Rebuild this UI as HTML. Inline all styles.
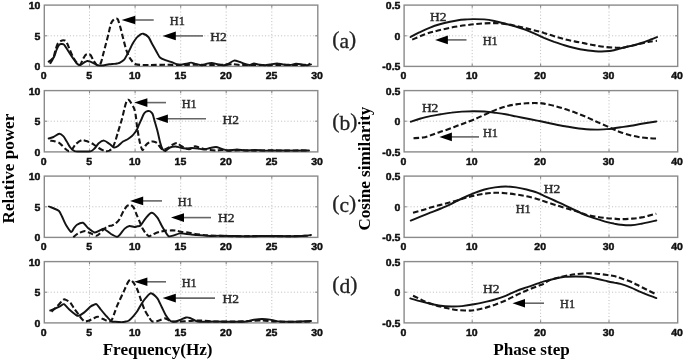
<!DOCTYPE html>
<html><head><meta charset="utf-8"><title>Figure</title>
<style>
html,body{margin:0;padding:0;background:#fff;}
body{width:685px;height:361px;overflow:hidden;}
svg{display:block;filter:blur(0.4px);}
.f{fill:none;stroke:#8a8a8a;stroke-width:1.4;}
.g{stroke:#b4b4b4;stroke-width:0.9;stroke-dasharray:1 2.2;}
.t{stroke:#8a8a8a;stroke-width:1.1;}
.n{text-rendering:geometricPrecision;font-family:"Liberation Sans",Arial,sans-serif;font-weight:bold;font-size:10.1px;fill:#111;stroke:#111;stroke-width:0.45;}
.cs{fill:none;stroke:#141414;stroke-width:1.95;stroke-linejoin:round;stroke-linecap:round;}
.cd{fill:none;stroke:#141414;stroke-width:2.1;stroke-dasharray:5.6 2.7;}
.as{stroke:#666;stroke-width:1.6;}
.ah{fill:#000;}
.h{font-family:"Liberation Serif","Times New Roman",serif;font-size:13.2px;fill:#2a2a2a;stroke:#2a2a2a;stroke-width:0.45;}
.p{font-family:"Liberation Serif","Times New Roman",serif;font-size:20.3px;fill:#222;stroke:#222;stroke-width:0.3;}
.a{font-family:"Liberation Serif","Times New Roman",serif;font-weight:bold;font-size:17.1px;fill:#000;}
</style></head>
<body>
<svg width="685" height="361" viewBox="0 0 685 361">
<rect width="685" height="361" fill="#fff"/>
<line x1="89.5" y1="5.1" x2="89.5" y2="66.4" class="g"/>
<line x1="89.5" y1="5.1" x2="89.5" y2="7.8" class="t"/>
<line x1="89.5" y1="66.4" x2="89.5" y2="63.7" class="t"/>
<line x1="135.1" y1="5.1" x2="135.1" y2="66.4" class="g"/>
<line x1="135.1" y1="5.1" x2="135.1" y2="7.8" class="t"/>
<line x1="135.1" y1="66.4" x2="135.1" y2="63.7" class="t"/>
<line x1="180.7" y1="5.1" x2="180.7" y2="66.4" class="g"/>
<line x1="180.7" y1="5.1" x2="180.7" y2="7.8" class="t"/>
<line x1="180.7" y1="66.4" x2="180.7" y2="63.7" class="t"/>
<line x1="226.2" y1="5.1" x2="226.2" y2="66.4" class="g"/>
<line x1="226.2" y1="5.1" x2="226.2" y2="7.8" class="t"/>
<line x1="226.2" y1="66.4" x2="226.2" y2="63.7" class="t"/>
<line x1="271.8" y1="5.1" x2="271.8" y2="66.4" class="g"/>
<line x1="271.8" y1="5.1" x2="271.8" y2="7.8" class="t"/>
<line x1="271.8" y1="66.4" x2="271.8" y2="63.7" class="t"/>
<line x1="44.3" y1="35.8" x2="317.8" y2="35.8" class="g"/>
<line x1="44.3" y1="35.8" x2="47.0" y2="35.8" class="t"/>
<line x1="317.8" y1="35.8" x2="315.1" y2="35.8" class="t"/>
<rect x="44.3" y="5.1" width="273.5" height="61.3" class="f"/>
<line x1="472.2" y1="5.1" x2="472.2" y2="66.4" class="g"/>
<line x1="472.2" y1="5.1" x2="472.2" y2="7.8" class="t"/>
<line x1="472.2" y1="66.4" x2="472.2" y2="63.7" class="t"/>
<line x1="540.6" y1="5.1" x2="540.6" y2="66.4" class="g"/>
<line x1="540.6" y1="5.1" x2="540.6" y2="7.8" class="t"/>
<line x1="540.6" y1="66.4" x2="540.6" y2="63.7" class="t"/>
<line x1="609.0" y1="5.1" x2="609.0" y2="66.4" class="g"/>
<line x1="609.0" y1="5.1" x2="609.0" y2="7.8" class="t"/>
<line x1="609.0" y1="66.4" x2="609.0" y2="63.7" class="t"/>
<line x1="404.1" y1="35.8" x2="677.7" y2="35.8" class="g"/>
<line x1="404.1" y1="35.8" x2="406.8" y2="35.8" class="t"/>
<line x1="677.7" y1="35.8" x2="675.0" y2="35.8" class="t"/>
<rect x="404.1" y="5.1" width="273.6" height="61.3" class="f"/>
<text transform="translate(40.4,9.0) scale(1.04,1)" text-anchor="end" class="n">10</text>
<text transform="translate(40.4,39.6) scale(1.04,1)" text-anchor="end" class="n">5</text>
<text transform="translate(40.4,70.2) scale(1.04,1)" text-anchor="end" class="n">0</text>
<text transform="translate(43.6,79.0) scale(1.04,1)" text-anchor="middle" class="n">0</text>
<text transform="translate(89.2,79.0) scale(1.04,1)" text-anchor="middle" class="n">5</text>
<text transform="translate(134.8,79.0) scale(1.04,1)" text-anchor="middle" class="n">10</text>
<text transform="translate(180.4,79.0) scale(1.04,1)" text-anchor="middle" class="n">15</text>
<text transform="translate(225.9,79.0) scale(1.04,1)" text-anchor="middle" class="n">20</text>
<text transform="translate(271.5,79.0) scale(1.04,1)" text-anchor="middle" class="n">25</text>
<text transform="translate(317.1,79.0) scale(1.04,1)" text-anchor="middle" class="n">30</text>
<text transform="translate(400.4,9.0) scale(1.04,1)" text-anchor="end" class="n">0.5</text>
<text transform="translate(400.4,39.6) scale(1.04,1)" text-anchor="end" class="n">0</text>
<text transform="translate(400.4,70.2) scale(1.04,1)" text-anchor="end" class="n">-0.5</text>
<text transform="translate(403.4,79.0) scale(1.04,1)" text-anchor="middle" class="n">0</text>
<text transform="translate(471.8,79.0) scale(1.04,1)" text-anchor="middle" class="n">10</text>
<text transform="translate(540.2,79.0) scale(1.04,1)" text-anchor="middle" class="n">20</text>
<text transform="translate(608.6,79.0) scale(1.04,1)" text-anchor="middle" class="n">30</text>
<text transform="translate(677.0,79.0) scale(1.04,1)" text-anchor="middle" class="n">40</text>
<line x1="89.5" y1="90.6" x2="89.5" y2="151.9" class="g"/>
<line x1="89.5" y1="90.6" x2="89.5" y2="93.3" class="t"/>
<line x1="89.5" y1="151.9" x2="89.5" y2="149.2" class="t"/>
<line x1="135.1" y1="90.6" x2="135.1" y2="151.9" class="g"/>
<line x1="135.1" y1="90.6" x2="135.1" y2="93.3" class="t"/>
<line x1="135.1" y1="151.9" x2="135.1" y2="149.2" class="t"/>
<line x1="180.7" y1="90.6" x2="180.7" y2="151.9" class="g"/>
<line x1="180.7" y1="90.6" x2="180.7" y2="93.3" class="t"/>
<line x1="180.7" y1="151.9" x2="180.7" y2="149.2" class="t"/>
<line x1="226.2" y1="90.6" x2="226.2" y2="151.9" class="g"/>
<line x1="226.2" y1="90.6" x2="226.2" y2="93.3" class="t"/>
<line x1="226.2" y1="151.9" x2="226.2" y2="149.2" class="t"/>
<line x1="271.8" y1="90.6" x2="271.8" y2="151.9" class="g"/>
<line x1="271.8" y1="90.6" x2="271.8" y2="93.3" class="t"/>
<line x1="271.8" y1="151.9" x2="271.8" y2="149.2" class="t"/>
<line x1="44.3" y1="121.2" x2="317.8" y2="121.2" class="g"/>
<line x1="44.3" y1="121.2" x2="47.0" y2="121.2" class="t"/>
<line x1="317.8" y1="121.2" x2="315.1" y2="121.2" class="t"/>
<rect x="44.3" y="90.6" width="273.5" height="61.3" class="f"/>
<line x1="472.2" y1="90.6" x2="472.2" y2="151.9" class="g"/>
<line x1="472.2" y1="90.6" x2="472.2" y2="93.3" class="t"/>
<line x1="472.2" y1="151.9" x2="472.2" y2="149.2" class="t"/>
<line x1="540.6" y1="90.6" x2="540.6" y2="151.9" class="g"/>
<line x1="540.6" y1="90.6" x2="540.6" y2="93.3" class="t"/>
<line x1="540.6" y1="151.9" x2="540.6" y2="149.2" class="t"/>
<line x1="609.0" y1="90.6" x2="609.0" y2="151.9" class="g"/>
<line x1="609.0" y1="90.6" x2="609.0" y2="93.3" class="t"/>
<line x1="609.0" y1="151.9" x2="609.0" y2="149.2" class="t"/>
<line x1="404.1" y1="121.2" x2="677.7" y2="121.2" class="g"/>
<line x1="404.1" y1="121.2" x2="406.8" y2="121.2" class="t"/>
<line x1="677.7" y1="121.2" x2="675.0" y2="121.2" class="t"/>
<rect x="404.1" y="90.6" width="273.6" height="61.3" class="f"/>
<text transform="translate(40.4,94.5) scale(1.04,1)" text-anchor="end" class="n">10</text>
<text transform="translate(40.4,125.1) scale(1.04,1)" text-anchor="end" class="n">5</text>
<text transform="translate(40.4,155.7) scale(1.04,1)" text-anchor="end" class="n">0</text>
<text transform="translate(43.6,164.5) scale(1.04,1)" text-anchor="middle" class="n">0</text>
<text transform="translate(89.2,164.5) scale(1.04,1)" text-anchor="middle" class="n">5</text>
<text transform="translate(134.8,164.5) scale(1.04,1)" text-anchor="middle" class="n">10</text>
<text transform="translate(180.4,164.5) scale(1.04,1)" text-anchor="middle" class="n">15</text>
<text transform="translate(225.9,164.5) scale(1.04,1)" text-anchor="middle" class="n">20</text>
<text transform="translate(271.5,164.5) scale(1.04,1)" text-anchor="middle" class="n">25</text>
<text transform="translate(317.1,164.5) scale(1.04,1)" text-anchor="middle" class="n">30</text>
<text transform="translate(400.4,94.5) scale(1.04,1)" text-anchor="end" class="n">0.5</text>
<text transform="translate(400.4,125.1) scale(1.04,1)" text-anchor="end" class="n">0</text>
<text transform="translate(400.4,155.7) scale(1.04,1)" text-anchor="end" class="n">-0.5</text>
<text transform="translate(403.4,164.5) scale(1.04,1)" text-anchor="middle" class="n">0</text>
<text transform="translate(471.8,164.5) scale(1.04,1)" text-anchor="middle" class="n">10</text>
<text transform="translate(540.2,164.5) scale(1.04,1)" text-anchor="middle" class="n">20</text>
<text transform="translate(608.6,164.5) scale(1.04,1)" text-anchor="middle" class="n">30</text>
<text transform="translate(677.0,164.5) scale(1.04,1)" text-anchor="middle" class="n">40</text>
<line x1="89.5" y1="176.1" x2="89.5" y2="237.4" class="g"/>
<line x1="89.5" y1="176.1" x2="89.5" y2="178.8" class="t"/>
<line x1="89.5" y1="237.4" x2="89.5" y2="234.7" class="t"/>
<line x1="135.1" y1="176.1" x2="135.1" y2="237.4" class="g"/>
<line x1="135.1" y1="176.1" x2="135.1" y2="178.8" class="t"/>
<line x1="135.1" y1="237.4" x2="135.1" y2="234.7" class="t"/>
<line x1="180.7" y1="176.1" x2="180.7" y2="237.4" class="g"/>
<line x1="180.7" y1="176.1" x2="180.7" y2="178.8" class="t"/>
<line x1="180.7" y1="237.4" x2="180.7" y2="234.7" class="t"/>
<line x1="226.2" y1="176.1" x2="226.2" y2="237.4" class="g"/>
<line x1="226.2" y1="176.1" x2="226.2" y2="178.8" class="t"/>
<line x1="226.2" y1="237.4" x2="226.2" y2="234.7" class="t"/>
<line x1="271.8" y1="176.1" x2="271.8" y2="237.4" class="g"/>
<line x1="271.8" y1="176.1" x2="271.8" y2="178.8" class="t"/>
<line x1="271.8" y1="237.4" x2="271.8" y2="234.7" class="t"/>
<line x1="44.3" y1="206.8" x2="317.8" y2="206.8" class="g"/>
<line x1="44.3" y1="206.8" x2="47.0" y2="206.8" class="t"/>
<line x1="317.8" y1="206.8" x2="315.1" y2="206.8" class="t"/>
<rect x="44.3" y="176.1" width="273.5" height="61.3" class="f"/>
<line x1="472.2" y1="176.1" x2="472.2" y2="237.4" class="g"/>
<line x1="472.2" y1="176.1" x2="472.2" y2="178.8" class="t"/>
<line x1="472.2" y1="237.4" x2="472.2" y2="234.7" class="t"/>
<line x1="540.6" y1="176.1" x2="540.6" y2="237.4" class="g"/>
<line x1="540.6" y1="176.1" x2="540.6" y2="178.8" class="t"/>
<line x1="540.6" y1="237.4" x2="540.6" y2="234.7" class="t"/>
<line x1="609.0" y1="176.1" x2="609.0" y2="237.4" class="g"/>
<line x1="609.0" y1="176.1" x2="609.0" y2="178.8" class="t"/>
<line x1="609.0" y1="237.4" x2="609.0" y2="234.7" class="t"/>
<line x1="404.1" y1="206.8" x2="677.7" y2="206.8" class="g"/>
<line x1="404.1" y1="206.8" x2="406.8" y2="206.8" class="t"/>
<line x1="677.7" y1="206.8" x2="675.0" y2="206.8" class="t"/>
<rect x="404.1" y="176.1" width="273.6" height="61.3" class="f"/>
<text transform="translate(40.4,180.0) scale(1.04,1)" text-anchor="end" class="n">10</text>
<text transform="translate(40.4,210.6) scale(1.04,1)" text-anchor="end" class="n">5</text>
<text transform="translate(40.4,241.2) scale(1.04,1)" text-anchor="end" class="n">0</text>
<text transform="translate(43.6,250.0) scale(1.04,1)" text-anchor="middle" class="n">0</text>
<text transform="translate(89.2,250.0) scale(1.04,1)" text-anchor="middle" class="n">5</text>
<text transform="translate(134.8,250.0) scale(1.04,1)" text-anchor="middle" class="n">10</text>
<text transform="translate(180.4,250.0) scale(1.04,1)" text-anchor="middle" class="n">15</text>
<text transform="translate(225.9,250.0) scale(1.04,1)" text-anchor="middle" class="n">20</text>
<text transform="translate(271.5,250.0) scale(1.04,1)" text-anchor="middle" class="n">25</text>
<text transform="translate(317.1,250.0) scale(1.04,1)" text-anchor="middle" class="n">30</text>
<text transform="translate(400.4,180.0) scale(1.04,1)" text-anchor="end" class="n">0.5</text>
<text transform="translate(400.4,210.6) scale(1.04,1)" text-anchor="end" class="n">0</text>
<text transform="translate(400.4,241.2) scale(1.04,1)" text-anchor="end" class="n">-0.5</text>
<text transform="translate(403.4,250.0) scale(1.04,1)" text-anchor="middle" class="n">0</text>
<text transform="translate(471.8,250.0) scale(1.04,1)" text-anchor="middle" class="n">10</text>
<text transform="translate(540.2,250.0) scale(1.04,1)" text-anchor="middle" class="n">20</text>
<text transform="translate(608.6,250.0) scale(1.04,1)" text-anchor="middle" class="n">30</text>
<text transform="translate(677.0,250.0) scale(1.04,1)" text-anchor="middle" class="n">40</text>
<line x1="89.5" y1="261.6" x2="89.5" y2="322.9" class="g"/>
<line x1="89.5" y1="261.6" x2="89.5" y2="264.3" class="t"/>
<line x1="89.5" y1="322.9" x2="89.5" y2="320.2" class="t"/>
<line x1="135.1" y1="261.6" x2="135.1" y2="322.9" class="g"/>
<line x1="135.1" y1="261.6" x2="135.1" y2="264.3" class="t"/>
<line x1="135.1" y1="322.9" x2="135.1" y2="320.2" class="t"/>
<line x1="180.7" y1="261.6" x2="180.7" y2="322.9" class="g"/>
<line x1="180.7" y1="261.6" x2="180.7" y2="264.3" class="t"/>
<line x1="180.7" y1="322.9" x2="180.7" y2="320.2" class="t"/>
<line x1="226.2" y1="261.6" x2="226.2" y2="322.9" class="g"/>
<line x1="226.2" y1="261.6" x2="226.2" y2="264.3" class="t"/>
<line x1="226.2" y1="322.9" x2="226.2" y2="320.2" class="t"/>
<line x1="271.8" y1="261.6" x2="271.8" y2="322.9" class="g"/>
<line x1="271.8" y1="261.6" x2="271.8" y2="264.3" class="t"/>
<line x1="271.8" y1="322.9" x2="271.8" y2="320.2" class="t"/>
<line x1="44.3" y1="292.2" x2="317.8" y2="292.2" class="g"/>
<line x1="44.3" y1="292.2" x2="47.0" y2="292.2" class="t"/>
<line x1="317.8" y1="292.2" x2="315.1" y2="292.2" class="t"/>
<rect x="44.3" y="261.6" width="273.5" height="61.3" class="f"/>
<line x1="472.2" y1="261.6" x2="472.2" y2="322.9" class="g"/>
<line x1="472.2" y1="261.6" x2="472.2" y2="264.3" class="t"/>
<line x1="472.2" y1="322.9" x2="472.2" y2="320.2" class="t"/>
<line x1="540.6" y1="261.6" x2="540.6" y2="322.9" class="g"/>
<line x1="540.6" y1="261.6" x2="540.6" y2="264.3" class="t"/>
<line x1="540.6" y1="322.9" x2="540.6" y2="320.2" class="t"/>
<line x1="609.0" y1="261.6" x2="609.0" y2="322.9" class="g"/>
<line x1="609.0" y1="261.6" x2="609.0" y2="264.3" class="t"/>
<line x1="609.0" y1="322.9" x2="609.0" y2="320.2" class="t"/>
<line x1="404.1" y1="292.2" x2="677.7" y2="292.2" class="g"/>
<line x1="404.1" y1="292.2" x2="406.8" y2="292.2" class="t"/>
<line x1="677.7" y1="292.2" x2="675.0" y2="292.2" class="t"/>
<rect x="404.1" y="261.6" width="273.6" height="61.3" class="f"/>
<text transform="translate(40.4,265.5) scale(1.04,1)" text-anchor="end" class="n">10</text>
<text transform="translate(40.4,296.1) scale(1.04,1)" text-anchor="end" class="n">5</text>
<text transform="translate(40.4,326.7) scale(1.04,1)" text-anchor="end" class="n">0</text>
<text transform="translate(43.6,335.5) scale(1.04,1)" text-anchor="middle" class="n">0</text>
<text transform="translate(89.2,335.5) scale(1.04,1)" text-anchor="middle" class="n">5</text>
<text transform="translate(134.8,335.5) scale(1.04,1)" text-anchor="middle" class="n">10</text>
<text transform="translate(180.4,335.5) scale(1.04,1)" text-anchor="middle" class="n">15</text>
<text transform="translate(225.9,335.5) scale(1.04,1)" text-anchor="middle" class="n">20</text>
<text transform="translate(271.5,335.5) scale(1.04,1)" text-anchor="middle" class="n">25</text>
<text transform="translate(317.1,335.5) scale(1.04,1)" text-anchor="middle" class="n">30</text>
<text transform="translate(400.4,265.5) scale(1.04,1)" text-anchor="end" class="n">0.5</text>
<text transform="translate(400.4,296.1) scale(1.04,1)" text-anchor="end" class="n">0</text>
<text transform="translate(400.4,326.7) scale(1.04,1)" text-anchor="end" class="n">-0.5</text>
<text transform="translate(403.4,335.5) scale(1.04,1)" text-anchor="middle" class="n">0</text>
<text transform="translate(471.8,335.5) scale(1.04,1)" text-anchor="middle" class="n">10</text>
<text transform="translate(540.2,335.5) scale(1.04,1)" text-anchor="middle" class="n">20</text>
<text transform="translate(608.6,335.5) scale(1.04,1)" text-anchor="middle" class="n">30</text>
<text transform="translate(677.0,335.5) scale(1.04,1)" text-anchor="middle" class="n">40</text>
<path d="M50.0,63.7 C50.4,62.9 52.8,59.2 53.5,57.5 C54.2,55.8 55.0,51.7 55.5,50.0 C56.0,48.3 57.1,44.8 57.7,43.7 C58.3,42.6 59.8,41.6 60.5,41.2 C61.2,40.8 62.5,40.2 63.2,40.2 C63.9,40.2 65.2,40.2 66.0,41.2 C66.8,42.2 68.5,46.5 69.3,48.4 C70.1,50.3 71.6,54.2 72.5,56.0 C73.4,57.8 75.6,61.4 76.6,62.5 C77.6,63.6 79.5,65.1 80.3,64.7 C81.1,64.3 82.3,60.2 83.0,59.0 C83.7,57.8 84.9,55.6 85.5,55.0 C86.1,54.4 87.4,54.0 88.0,54.0 C88.6,54.0 89.8,54.2 90.5,55.0 C91.2,55.8 92.7,59.3 93.5,60.5 C94.3,61.7 95.9,64.1 96.6,64.7 C97.3,65.3 98.4,65.3 99.0,65.0 C99.6,64.7 100.5,63.8 101.0,62.5 C101.5,61.2 102.4,57.4 103.0,55.0 C103.6,52.6 105.3,46.1 106.0,43.5 C106.7,40.9 107.8,36.7 108.4,34.2 C109.0,31.7 110.3,25.3 111.0,23.5 C111.7,21.7 113.0,20.2 113.7,19.6 C114.4,19.0 115.7,18.6 116.2,18.6 C116.7,18.6 117.5,18.4 118.0,19.6 C118.5,20.8 119.8,25.5 120.5,27.9 C121.2,30.3 122.5,35.7 123.2,38.5 C123.9,41.3 125.5,47.6 126.3,50.0 C127.1,52.4 128.7,56.0 129.5,57.5 C130.3,59.0 131.8,60.8 132.6,61.7 C133.4,62.6 134.9,63.9 135.8,64.3 C136.7,64.7 138.2,64.8 140.0,64.9 C141.8,65.0 146.8,65.0 150.0,65.0 C153.2,65.0 161.2,64.8 165.0,64.8 C168.8,64.8 176.2,65.0 180.0,65.0 C183.8,65.0 191.2,64.7 195.0,64.7 C198.8,64.7 206.2,65.0 210.0,65.0 C213.8,65.0 222.1,64.8 225.0,64.7 C227.9,64.6 231.1,64.2 233.0,64.2 C234.9,64.2 237.2,64.9 240.0,65.0 C242.8,65.1 251.2,64.9 255.0,64.9 C258.8,64.9 266.2,65.1 270.0,65.1 C273.8,65.1 281.2,64.8 285.0,64.8 C288.8,64.8 297.3,65.1 300.0,65.1 C302.7,65.1 304.7,65.1 306.0,64.9 C307.3,64.7 309.5,63.9 310.0,63.8" class="cd"/>
<path d="M48.7,61.6 C49.1,61.3 50.8,60.1 51.5,59.5 C52.2,58.9 53.4,58.2 54.0,57.0 C54.6,55.8 55.9,51.5 56.5,50.0 C57.1,48.5 58.1,46.1 58.7,45.3 C59.3,44.5 60.3,44.1 61.0,44.0 C61.7,43.9 63.1,43.7 64.0,44.6 C64.9,45.5 67.1,49.4 68.2,51.0 C69.3,52.6 71.3,55.9 72.4,57.4 C73.5,58.9 75.6,62.2 76.6,63.2 C77.6,64.2 79.4,65.2 80.3,65.1 C81.2,65.0 83.1,63.1 84.0,62.6 C84.9,62.1 86.4,61.1 87.2,61.0 C88.0,60.9 89.4,61.3 90.3,61.6 C91.2,61.9 93.6,63.2 94.5,63.7 C95.4,64.2 96.6,65.0 97.7,65.2 C98.8,65.4 101.6,65.6 103.0,65.5 C104.4,65.4 107.6,64.5 109.0,64.3 C110.4,64.1 113.0,64.0 114.0,63.9 C115.0,63.8 116.2,63.7 117.0,63.5 C117.8,63.3 119.1,63.2 120.0,62.7 C120.9,62.2 123.1,60.9 124.2,59.6 C125.3,58.3 127.3,54.2 128.4,52.2 C129.5,50.2 131.5,45.7 132.6,43.8 C133.7,41.9 135.9,38.6 136.8,37.5 C137.7,36.4 139.2,35.3 140.0,34.8 C140.8,34.3 142.1,33.4 143.2,33.7 C144.3,34.0 147.2,35.6 148.4,37.0 C149.6,38.4 151.5,42.9 152.6,44.8 C153.7,46.7 155.9,50.6 156.8,52.2 C157.7,53.8 158.9,56.5 160.0,57.5 C161.1,58.5 163.8,59.5 165.3,60.1 C166.8,60.7 170.1,61.7 171.6,62.2 C173.1,62.7 175.6,63.9 176.8,64.2 C178.0,64.5 179.8,64.8 181.0,64.7 C182.2,64.6 185.0,64.1 186.3,63.8 C187.6,63.5 189.8,62.6 191.0,62.6 C192.2,62.6 194.6,63.7 196.0,64.0 C197.4,64.3 200.6,65.3 202.0,65.2 C203.4,65.1 205.6,63.9 207.0,63.6 C208.4,63.3 211.6,63.0 213.0,63.1 C214.4,63.2 216.6,64.2 218.0,64.5 C219.4,64.8 222.7,65.3 224.0,65.2 C225.3,65.1 226.7,64.6 228.0,64.0 C229.3,63.4 232.5,60.9 234.0,60.6 C235.5,60.3 238.6,61.6 240.0,62.0 C241.4,62.4 243.7,63.6 245.0,64.0 C246.3,64.4 248.9,65.1 250.0,65.0 C251.1,64.9 253.0,63.5 254.0,63.4 C255.0,63.3 256.6,64.3 258.0,64.5 C259.4,64.7 263.5,65.2 265.0,65.2 C266.5,65.2 268.5,64.7 270.0,64.5 C271.5,64.3 275.4,63.4 277.0,63.4 C278.6,63.4 281.4,64.3 283.0,64.5 C284.6,64.7 288.4,65.1 290.0,65.0 C291.6,64.9 294.5,63.9 296.0,63.8 C297.5,63.7 300.6,64.3 302.0,64.5 C303.4,64.7 305.9,65.2 307.0,65.2 C308.1,65.2 310.5,64.5 311.0,64.4" class="cs"/>
<path d="M48.7,138.5 C49.3,138.3 52.2,137.6 53.5,137.0 C54.8,136.4 58.0,133.9 59.3,133.8 C60.6,133.7 62.6,135.5 63.5,136.4 C64.4,137.3 65.7,139.8 66.6,141.2 C67.5,142.6 69.3,146.2 70.3,147.5 C71.3,148.8 73.3,150.6 74.5,151.1 C75.7,151.6 77.8,151.4 79.8,151.4 C81.8,151.4 88.4,151.8 90.3,151.4 C92.2,151.0 93.4,149.5 94.5,148.5 C95.6,147.5 97.5,144.3 98.7,143.3 C99.9,142.3 102.7,140.5 104.0,140.6 C105.3,140.7 108.0,142.9 109.3,143.8 C110.6,144.7 112.9,147.2 114.0,147.5 C115.1,147.8 116.9,146.8 118.0,146.0 C119.1,145.2 121.7,142.4 123.0,141.5 C124.3,140.6 126.9,139.7 128.0,139.0 C129.1,138.3 131.1,136.8 132.0,136.0 C132.9,135.2 134.4,133.3 135.0,132.5 C135.6,131.7 136.4,130.6 137.0,129.5 C137.6,128.4 138.9,124.8 139.5,123.5 C140.1,122.2 141.1,120.1 141.6,119.0 C142.1,117.9 143.0,115.4 143.5,114.5 C144.0,113.6 145.2,112.2 145.8,111.8 C146.4,111.4 147.5,111.1 148.0,111.0 C148.5,110.9 149.4,110.9 150.0,111.3 C150.6,111.7 152.0,112.7 152.6,114.0 C153.2,115.3 154.1,119.2 154.7,121.3 C155.3,123.4 156.7,128.2 157.4,130.8 C158.1,133.4 159.4,139.7 160.0,142.0 C160.6,144.3 161.8,147.9 162.5,149.0 C163.2,150.1 164.6,151.2 165.5,151.0 C166.4,150.8 168.7,148.1 170.0,147.5 C171.3,146.9 174.1,146.5 175.4,146.5 C176.7,146.5 178.7,147.2 180.0,147.5 C181.3,147.8 184.5,148.4 186.0,148.5 C187.5,148.6 190.5,148.0 192.0,148.0 C193.5,148.0 196.5,148.3 198.0,148.5 C199.5,148.7 202.5,149.6 204.0,149.5 C205.5,149.4 208.5,148.3 210.0,148.0 C211.5,147.7 214.5,146.9 216.0,147.0 C217.5,147.1 220.5,148.6 222.0,149.0 C223.5,149.4 226.1,150.4 228.0,150.5 C229.9,150.6 234.8,149.5 237.0,149.5 C239.2,149.5 242.7,150.4 245.0,150.5 C247.3,150.6 252.5,150.0 255.0,150.0 C257.5,150.0 261.8,150.5 265.0,150.6 C268.2,150.7 276.2,150.4 280.0,150.4 C283.8,150.4 291.3,150.6 295.0,150.6 C298.7,150.6 307.2,150.4 309.0,150.4" class="cs"/>
<path d="M50.3,140.6 C50.8,140.7 53.3,140.9 54.5,141.2 C55.7,141.5 58.5,142.4 59.8,143.3 C61.1,144.2 63.9,147.5 65.0,148.5 C66.1,149.5 67.8,151.0 68.7,151.1 C69.6,151.2 71.0,150.5 71.9,149.6 C72.8,148.7 74.3,145.5 75.6,144.3 C76.9,143.1 80.3,140.4 81.9,140.1 C83.5,139.8 86.7,141.2 88.2,141.7 C89.7,142.2 92.2,143.5 93.5,144.3 C94.8,145.1 97.2,147.1 98.7,148.0 C100.2,148.9 103.7,150.8 105.0,151.1 C106.3,151.4 108.3,151.0 109.3,150.6 C110.2,150.2 111.8,149.1 112.5,148.0 C113.2,146.9 114.3,144.0 115.0,142.0 C115.7,140.0 117.1,135.1 117.9,132.4 C118.7,129.7 120.7,123.4 121.6,120.3 C122.5,117.2 124.1,110.0 124.7,107.6 C125.3,105.2 126.1,102.5 126.5,101.5 C126.9,100.5 127.5,99.9 127.9,99.8 C128.3,99.7 129.1,100.1 129.5,100.5 C129.9,100.9 130.4,101.9 131.0,102.9 C131.6,103.9 133.6,107.0 134.2,108.7 C134.8,110.4 135.5,114.0 135.8,116.0 C136.1,118.0 136.5,122.5 136.8,124.5 C137.1,126.5 137.4,129.2 137.8,131.5 C138.2,133.8 139.4,140.7 140.0,143.0 C140.6,145.3 141.7,149.7 142.5,150.0 C143.3,150.3 145.1,146.0 146.0,145.0 C146.9,144.0 149.1,142.4 150.0,142.0 C150.9,141.6 152.1,141.4 153.0,141.5 C153.9,141.6 156.1,142.3 157.0,143.0 C157.9,143.7 159.2,146.1 160.0,147.0 C160.8,147.9 162.0,149.9 163.0,150.0 C164.0,150.1 166.9,148.6 168.0,148.0 C169.1,147.4 170.9,145.6 172.0,145.0 C173.1,144.4 175.9,142.9 177.0,143.0 C178.1,143.1 179.9,145.3 181.0,146.0 C182.1,146.7 184.9,148.1 186.0,148.5 C187.1,148.9 188.9,149.3 190.0,149.0 C191.1,148.7 193.9,146.5 195.0,146.3 C196.1,146.1 197.9,147.2 199.0,147.5 C200.1,147.8 202.6,148.7 204.0,149.0 C205.4,149.3 208.5,149.8 210.0,150.0 C211.5,150.2 214.5,150.5 216.0,150.5 C217.5,150.5 220.2,150.0 222.0,150.0 C223.8,150.0 227.7,150.6 230.0,150.6 C232.3,150.6 236.8,150.2 240.0,150.2 C243.2,150.2 251.2,150.6 255.0,150.6 C258.8,150.6 266.2,150.3 270.0,150.3 C273.8,150.3 281.2,150.6 285.0,150.6 C288.8,150.6 297.0,150.4 300.0,150.4 C303.0,150.4 307.9,150.6 309.0,150.6" class="cd"/>
<path d="M49.0,206.5 C49.6,206.8 52.7,207.9 54.0,208.5 C55.3,209.1 58.0,210.0 59.0,211.0 C60.0,212.0 61.1,214.7 62.0,216.5 C62.9,218.3 64.8,223.0 66.0,225.0 C67.2,227.0 70.2,231.6 71.2,232.0 C72.2,232.4 73.3,228.9 74.0,228.0 C74.7,227.1 75.9,225.5 77.0,224.8 C78.1,224.1 81.6,222.4 83.0,222.8 C84.4,223.2 86.5,226.8 88.0,228.0 C89.5,229.2 93.1,232.3 94.7,232.5 C96.3,232.7 99.7,230.4 100.9,229.9 C102.1,229.4 102.7,228.4 104.0,228.9 C105.3,229.4 109.3,233.0 111.0,234.0 C112.7,235.0 116.1,236.7 117.2,236.8 C118.3,236.9 119.0,235.5 120.0,234.5 C121.0,233.5 123.5,229.7 124.7,228.6 C125.9,227.5 128.3,226.2 129.5,226.0 C130.7,225.8 133.2,227.0 134.2,227.0 C135.2,227.0 136.7,226.5 137.5,226.3 C138.3,226.1 139.4,226.5 140.5,225.5 C141.6,224.5 144.4,219.7 145.8,218.1 C147.2,216.5 150.1,212.9 151.6,212.8 C153.1,212.7 156.1,216.0 157.4,217.6 C158.7,219.2 160.7,223.8 161.6,225.5 C162.5,227.2 163.8,229.3 164.7,230.7 C165.6,232.1 167.3,235.6 168.5,236.2 C169.7,236.8 172.4,235.8 173.8,235.4 C175.2,235.0 178.5,233.6 179.9,233.4 C181.3,233.2 183.7,233.7 185.0,233.8 C186.3,233.9 188.5,234.2 190.0,234.4 C191.5,234.6 195.1,234.8 197.0,235.0 C198.9,235.2 203.1,235.5 205.0,235.6 C206.9,235.7 210.1,236.0 212.0,236.0 C213.9,236.0 217.1,235.7 220.0,235.7 C222.9,235.7 231.2,235.9 235.0,236.0 C238.8,236.1 245.6,236.2 250.0,236.2 C254.4,236.2 264.9,236.0 270.0,236.0 C275.1,236.0 285.6,236.2 290.0,236.2 C294.4,236.2 302.3,236.0 305.0,235.8 C307.7,235.6 310.2,235.1 311.0,235.0" class="cs"/>
<path d="M73.3,237.2 C73.9,236.7 76.5,234.3 78.0,233.5 C79.5,232.7 83.5,231.1 85.0,231.0 C86.5,230.9 88.6,232.4 90.0,233.0 C91.4,233.6 95.1,235.7 96.3,235.8 C97.5,235.9 98.8,234.4 99.8,233.5 C100.8,232.6 103.0,229.9 104.0,229.0 C105.0,228.1 107.0,226.7 108.0,226.3 C109.0,225.9 111.1,225.8 112.0,225.5 C112.9,225.2 114.3,224.7 115.3,223.9 C116.2,223.1 118.6,220.6 119.5,219.2 C120.4,217.8 121.9,214.1 122.6,212.8 C123.3,211.5 124.3,209.8 124.8,209.0 C125.3,208.2 126.3,206.7 126.8,206.2 C127.3,205.7 128.5,205.4 129.0,205.2 C129.5,205.0 130.4,204.7 131.0,205.0 C131.6,205.3 133.0,206.5 133.7,207.6 C134.4,208.7 135.6,212.2 136.3,213.9 C137.0,215.6 138.7,219.4 139.5,221.3 C140.3,223.2 141.8,227.1 142.6,228.6 C143.4,230.1 145.0,232.4 145.8,233.4 C146.6,234.4 148.2,236.0 149.0,236.2 C149.8,236.4 151.1,235.4 152.0,235.0 C152.9,234.6 154.9,233.4 156.0,233.0 C157.1,232.6 159.7,231.8 161.0,231.5 C162.3,231.2 164.6,230.7 166.0,230.6 C167.4,230.5 170.7,230.4 172.0,230.4 C173.3,230.4 174.7,230.4 176.0,230.6 C177.3,230.8 180.5,231.8 182.0,232.0 C183.5,232.2 186.4,232.2 188.0,232.5 C189.6,232.8 193.1,233.7 195.0,234.0 C196.9,234.3 201.1,234.8 203.0,235.0 C204.9,235.2 207.2,235.4 210.0,235.5 C212.8,235.6 220.6,235.9 225.0,236.0 C229.4,236.1 239.9,236.2 245.0,236.2 C250.1,236.2 259.9,236.0 265.0,236.0 C270.1,236.0 280.6,236.2 285.0,236.2 C289.4,236.2 296.7,236.1 300.0,236.0 C303.3,235.9 309.6,235.6 311.0,235.5" class="cd"/>
<path d="M50.3,310.5 C51.0,310.2 54.3,309.0 55.6,308.4 C56.9,307.8 59.7,306.3 60.8,305.8 C61.9,305.3 62.9,303.7 64.0,304.2 C65.1,304.7 67.8,308.2 69.3,309.5 C70.8,310.8 74.4,313.9 75.6,314.7 C76.8,315.5 77.6,316.1 78.7,315.8 C79.8,315.5 82.5,313.7 84.0,312.6 C85.5,311.5 89.1,307.8 90.3,306.8 C91.5,305.8 92.7,305.3 93.5,305.0 C94.3,304.7 95.7,303.6 96.6,304.2 C97.5,304.8 99.6,308.0 100.8,309.5 C102.0,311.0 104.8,314.3 106.1,315.8 C107.4,317.3 110.2,320.6 111.4,321.4 C112.6,322.2 114.0,321.7 115.3,321.8 C116.6,321.9 120.2,322.1 121.6,322.1 C123.0,322.1 125.1,321.7 126.0,321.5 C126.9,321.3 128.1,321.2 129.0,320.5 C129.9,319.8 132.1,317.5 133.2,316.3 C134.3,315.1 136.3,312.6 137.4,311.0 C138.5,309.4 140.5,305.4 141.6,303.7 C142.7,302.0 144.6,299.2 145.8,297.9 C147.0,296.6 149.5,293.1 151.0,293.2 C152.5,293.3 156.1,296.7 157.4,298.4 C158.7,300.1 160.5,304.7 161.6,306.8 C162.7,308.9 164.7,313.5 165.8,315.3 C166.9,317.1 169.3,320.2 170.5,321.0 C171.7,321.8 174.1,321.7 175.3,321.6 C176.5,321.5 178.6,320.5 180.0,320.0 C181.4,319.5 184.7,317.8 186.0,317.5 C187.3,317.2 188.9,317.6 190.0,318.0 C191.1,318.4 193.7,320.0 195.0,320.5 C196.3,321.0 197.5,321.7 200.0,321.8 C202.5,321.9 210.6,321.5 215.0,321.5 C219.4,321.5 231.1,321.8 235.0,321.8 C238.9,321.8 243.6,321.8 246.0,321.5 C248.4,321.2 252.0,320.1 254.0,319.8 C256.0,319.5 260.0,319.0 262.0,319.0 C264.0,319.0 268.0,319.3 270.0,319.6 C272.0,319.9 274.8,321.1 278.0,321.4 C281.2,321.7 290.8,321.8 295.0,321.7 C299.2,321.6 309.0,321.1 311.0,321.0" class="cs"/>
<path d="M51.4,311.6 C52.2,310.9 56.3,307.2 57.7,305.8 C59.1,304.4 61.5,301.3 62.4,300.5 C63.3,299.7 64.0,299.2 65.0,299.5 C66.0,299.8 69.1,301.4 70.3,302.6 C71.5,303.8 73.4,307.5 74.5,309.0 C75.6,310.5 77.8,313.4 78.7,314.7 C79.6,316.0 81.1,318.2 81.9,319.0 C82.7,319.8 84.1,321.2 85.0,321.4 C85.9,321.6 88.2,320.9 89.3,320.5 C90.4,320.1 92.4,318.9 93.5,318.4 C94.6,317.9 96.5,316.7 97.7,316.8 C98.9,316.9 101.8,318.5 103.0,319.0 C104.2,319.5 106.2,320.7 107.2,321.0 C108.2,321.3 109.9,321.5 110.5,321.3 C111.1,321.1 111.5,320.6 112.0,319.5 C112.5,318.4 114.1,314.1 114.7,312.4 C115.3,310.7 116.4,307.6 117.0,306.0 C117.6,304.4 119.0,301.8 119.8,300.0 C120.6,298.2 122.7,293.8 123.7,291.6 C124.7,289.4 127.0,283.9 127.9,282.4 C128.8,280.9 129.8,279.7 130.5,279.8 C131.2,279.9 132.8,281.6 133.7,282.9 C134.6,284.2 136.6,287.9 137.4,289.7 C138.2,291.5 139.4,295.4 140.0,297.1 C140.6,298.8 141.5,301.8 142.1,303.4 C142.7,305.0 143.8,308.2 144.7,310.0 C145.6,311.8 148.1,316.0 149.0,317.4 C149.9,318.8 151.2,320.9 152.1,321.4 C153.0,321.9 155.2,321.6 156.3,321.4 C157.4,321.2 159.4,320.4 160.5,320.0 C161.6,319.6 163.7,318.4 164.7,318.4 C165.7,318.4 167.6,319.6 168.4,320.0 C169.2,320.4 169.5,321.2 171.0,321.4 C172.5,321.6 177.6,321.6 180.0,321.5 C182.4,321.4 187.5,321.1 190.0,321.0 C192.5,320.9 196.8,320.4 200.0,320.5 C203.2,320.6 210.6,321.4 215.0,321.5 C219.4,321.6 230.6,321.7 235.0,321.6 C239.4,321.5 246.6,321.1 250.0,321.0 C253.4,320.9 258.8,320.4 262.0,320.5 C265.2,320.6 270.8,321.3 275.0,321.5 C279.2,321.7 290.4,321.7 295.0,321.7 C299.6,321.7 309.0,321.5 311.0,321.5" class="cd"/>
<path d="M410.6,37.0 C412.1,36.2 416.2,33.9 419.3,32.4 C422.4,30.9 426.1,29.1 429.5,27.8 C432.9,26.5 436.4,25.3 439.8,24.3 C443.2,23.3 446.9,22.4 450.0,21.7 C453.1,21.0 455.2,20.6 458.1,20.2 C461.0,19.8 464.7,19.6 467.3,19.4 C469.9,19.2 471.2,19.1 474.0,19.1 C476.8,19.1 480.8,19.1 484.2,19.4 C487.6,19.7 491.0,20.3 494.4,21.0 C497.8,21.7 501.2,22.6 504.6,23.5 C508.0,24.4 511.5,25.2 514.9,26.2 C518.3,27.2 521.7,28.3 525.1,29.6 C528.5,30.9 532.1,32.4 535.3,33.8 C538.4,35.2 540.9,36.4 544.0,37.8 C547.1,39.1 550.8,40.6 554.2,41.9 C557.6,43.1 561.0,44.3 564.4,45.3 C567.8,46.3 571.2,47.2 574.6,48.0 C578.0,48.8 581.5,49.5 584.9,50.0 C588.3,50.5 591.7,51.0 595.1,51.2 C598.5,51.4 602.1,51.5 605.3,51.3 C608.4,51.1 611.5,50.7 614.0,50.2 C616.5,49.7 617.5,49.2 620.2,48.5 C622.9,47.8 627.0,46.9 630.4,46.0 C633.8,45.1 637.2,44.3 640.6,43.2 C644.0,42.1 648.2,40.5 650.9,39.5 C653.6,38.5 656.0,37.5 657.0,37.1" class="cs"/>
<path d="M412.2,39.6 C414.2,38.8 420.7,35.9 424.4,34.5 C428.1,33.1 431.2,32.3 434.6,31.4 C438.0,30.5 441.5,29.7 444.9,28.9 C448.3,28.1 451.6,27.4 455.0,26.8 C458.4,26.2 462.1,25.7 465.3,25.3 C468.5,24.9 470.9,24.6 474.0,24.3 C477.1,24.0 480.8,23.6 484.2,23.4 C487.6,23.2 491.3,23.1 494.4,23.1 C497.5,23.1 499.5,23.2 502.6,23.6 C505.7,24.0 509.4,24.5 512.8,25.2 C516.2,25.9 519.6,26.8 523.0,27.6 C526.4,28.4 529.7,29.1 533.2,30.0 C536.7,30.9 540.5,31.9 544.0,33.0 C547.5,34.0 550.8,35.3 554.2,36.3 C557.6,37.3 561.0,38.2 564.4,39.1 C567.8,40.0 571.2,40.7 574.6,41.4 C578.0,42.1 581.5,42.7 584.9,43.4 C588.3,44.1 591.7,44.8 595.1,45.4 C598.5,46.0 602.1,46.6 605.3,47.0 C608.4,47.4 611.5,47.5 614.0,47.6 C616.5,47.7 618.3,47.9 620.2,47.8 C622.1,47.7 622.8,47.7 625.3,47.2 C627.8,46.7 632.1,45.7 635.5,44.9 C638.9,44.1 643.2,43.0 645.8,42.4 C648.4,41.8 649.0,41.8 650.9,41.5 C652.8,41.2 656.0,40.9 657.0,40.8" class="cd"/>
<path d="M410.8,121.7 C412.3,121.2 416.6,119.6 419.8,118.7 C423.1,117.8 426.8,116.8 430.3,116.1 C433.8,115.4 437.3,114.9 440.8,114.3 C444.3,113.7 447.9,113.0 451.4,112.6 C454.9,112.1 458.1,111.8 461.9,111.6 C465.7,111.4 470.2,111.3 474.0,111.3 C477.8,111.3 481.0,111.3 484.5,111.5 C488.0,111.7 491.5,112.2 495.0,112.7 C498.5,113.2 502.1,113.7 505.6,114.3 C509.1,114.9 512.6,115.7 516.1,116.4 C519.6,117.1 523.1,117.8 526.6,118.5 C530.1,119.2 534.3,120.0 537.2,120.6 C540.1,121.2 541.1,121.4 544.0,122.0 C546.9,122.6 551.0,123.5 554.5,124.2 C558.0,124.9 561.5,125.6 565.0,126.2 C568.5,126.8 572.1,127.5 575.6,128.0 C579.1,128.5 582.6,129.0 586.1,129.3 C589.6,129.6 593.1,129.6 596.6,129.6 C600.1,129.6 604.3,129.3 607.2,129.1 C610.1,128.9 611.8,128.6 614.0,128.3 C616.2,128.0 617.7,127.7 620.5,127.3 C623.3,126.9 627.5,126.4 631.0,125.8 C634.5,125.2 637.4,124.5 641.6,123.8 C645.8,123.1 653.8,121.9 656.3,121.5" class="cs"/>
<path d="M413.5,138.2 C415.1,138.1 420.0,138.0 423.0,137.5 C426.0,137.0 428.8,135.9 431.4,135.1 C434.0,134.2 435.9,133.4 438.7,132.4 C441.5,131.4 445.2,130.4 448.2,129.3 C451.2,128.2 453.8,127.2 456.6,126.1 C459.4,125.0 462.1,124.0 465.0,122.9 C467.9,121.8 470.8,120.8 474.0,119.5 C477.2,118.2 481.0,116.4 484.5,114.8 C488.0,113.2 491.5,111.5 495.0,110.1 C498.5,108.7 502.1,107.4 505.6,106.4 C509.1,105.5 512.6,104.9 516.1,104.4 C519.6,103.9 523.1,103.5 526.6,103.3 C530.1,103.1 534.3,103.0 537.2,103.1 C540.1,103.1 541.1,103.1 544.0,103.6 C546.9,104.1 551.0,105.0 554.5,105.9 C558.0,106.8 561.5,108.0 565.0,109.1 C568.5,110.2 572.1,111.4 575.6,112.7 C579.1,114.0 582.6,115.4 586.1,116.9 C589.6,118.4 593.1,120.1 596.6,121.7 C600.1,123.3 604.3,125.1 607.2,126.4 C610.1,127.7 611.8,128.6 614.0,129.6 C616.2,130.6 617.7,131.2 620.5,132.2 C623.3,133.2 627.5,134.5 631.0,135.4 C634.5,136.3 638.4,137.0 641.6,137.5 C644.8,138.0 647.5,138.1 650.0,138.3 C652.5,138.5 655.2,138.5 656.3,138.5" class="cd"/>
<path d="M410.8,220.6 C412.3,220.0 416.6,218.2 419.8,216.9 C423.1,215.6 426.8,214.1 430.3,212.7 C433.8,211.3 437.3,210.0 440.8,208.5 C444.3,207.0 447.9,205.5 451.4,203.8 C454.9,202.1 458.1,200.3 461.9,198.5 C465.7,196.7 470.2,194.7 474.0,193.2 C477.8,191.7 481.0,190.5 484.5,189.5 C488.0,188.5 491.5,187.9 495.0,187.4 C498.5,186.9 502.1,186.5 505.6,186.5 C509.1,186.5 512.6,186.9 516.1,187.4 C519.6,187.9 523.1,188.6 526.6,189.5 C530.1,190.4 534.3,191.5 537.2,192.6 C540.1,193.7 541.1,194.5 544.0,195.8 C546.9,197.1 551.0,198.9 554.5,200.5 C558.0,202.1 561.5,203.6 565.0,205.3 C568.5,207.0 572.1,208.8 575.6,210.5 C579.1,212.2 582.6,213.9 586.1,215.3 C589.6,216.7 593.1,217.8 596.6,218.9 C600.1,220.0 604.3,221.3 607.2,222.1 C610.1,222.9 611.8,223.2 614.0,223.6 C616.2,224.0 617.7,224.4 620.5,224.7 C623.3,225.0 627.5,225.5 631.0,225.3 C634.5,225.1 637.4,224.5 641.6,223.7 C645.8,222.9 653.8,221.0 656.3,220.5" class="cs"/>
<path d="M413.0,212.7 C414.7,212.2 419.6,210.9 423.0,209.9 C426.4,208.9 430.0,207.7 433.5,206.7 C437.0,205.7 440.5,204.9 444.0,204.0 C447.5,203.1 451.0,202.2 454.5,201.2 C458.0,200.2 461.8,198.9 465.0,198.0 C468.2,197.1 470.8,196.3 474.0,195.6 C477.2,194.9 481.0,194.2 484.5,193.7 C488.0,193.2 491.5,192.9 495.0,192.8 C498.5,192.7 502.1,192.9 505.6,193.2 C509.1,193.5 512.6,194.0 516.1,194.5 C519.6,195.0 523.1,195.6 526.6,196.3 C530.1,197.0 534.3,198.1 537.2,198.9 C540.1,199.7 541.1,200.3 544.0,201.3 C546.9,202.3 551.0,203.6 554.5,204.7 C558.0,205.8 561.5,206.8 565.0,207.9 C568.5,209.0 572.1,209.9 575.6,211.0 C579.1,212.1 582.6,213.7 586.1,214.7 C589.6,215.7 593.1,216.2 596.6,216.8 C600.1,217.4 604.3,217.9 607.2,218.2 C610.1,218.5 611.8,218.4 614.0,218.6 C616.2,218.8 617.7,219.2 620.5,219.2 C623.3,219.2 627.5,219.0 631.0,218.7 C634.5,218.4 637.4,218.2 641.6,217.4 C645.8,216.6 653.8,214.3 656.3,213.7" class="cd"/>
<path d="M410.3,298.4 C411.9,298.8 416.5,300.2 419.8,301.1 C423.1,302.0 426.8,302.9 430.3,303.7 C433.8,304.5 437.3,305.3 440.8,305.8 C444.3,306.3 447.9,306.4 451.4,306.5 C454.9,306.6 458.1,306.5 461.9,306.1 C465.7,305.7 470.2,305.0 474.0,304.3 C477.8,303.6 481.0,302.9 484.5,302.1 C488.0,301.3 491.5,300.6 495.0,299.5 C498.5,298.4 502.1,297.2 505.6,295.8 C509.1,294.4 512.6,292.5 516.1,291.1 C519.6,289.7 523.1,288.6 526.6,287.4 C530.1,286.2 534.3,284.7 537.2,283.7 C540.1,282.7 541.1,282.2 544.0,281.4 C546.9,280.6 551.0,279.5 554.5,278.7 C558.0,277.9 561.5,277.2 565.0,276.8 C568.5,276.4 572.1,276.4 575.6,276.4 C579.1,276.4 582.6,276.4 586.1,276.8 C589.6,277.2 593.1,278.0 596.6,278.7 C600.1,279.4 604.3,280.5 607.2,281.2 C610.1,281.9 611.8,282.2 614.0,282.6 C616.2,283.1 617.7,283.1 620.5,283.9 C623.3,284.7 627.5,286.2 631.0,287.6 C634.5,289.0 637.4,290.6 641.6,292.3 C645.8,294.1 653.8,297.1 656.3,298.1" class="cs"/>
<path d="M413.0,295.8 C413.9,296.2 416.7,297.4 418.7,298.4 C420.7,299.4 422.2,300.5 425.0,301.6 C427.8,302.8 432.1,304.2 435.6,305.3 C439.1,306.4 442.6,307.1 446.1,307.9 C449.6,308.7 453.1,309.6 456.6,310.0 C460.1,310.4 464.3,310.4 467.2,310.5 C470.1,310.6 471.1,310.7 474.0,310.3 C476.9,309.9 481.0,308.9 484.5,308.0 C488.0,307.1 491.5,305.9 495.0,304.7 C498.5,303.4 502.1,302.1 505.6,300.5 C509.1,298.9 512.6,297.0 516.1,295.3 C519.6,293.6 523.1,292.0 526.6,290.5 C530.1,289.0 534.3,287.4 537.2,286.3 C540.1,285.2 542.0,284.7 544.0,283.7 C546.0,282.7 546.7,281.4 549.3,280.3 C551.9,279.2 556.3,278.1 559.8,277.2 C563.3,276.3 567.7,275.5 570.3,275.0 C572.9,274.5 573.0,274.5 575.6,274.2 C578.2,273.9 582.6,273.4 586.1,273.3 C589.6,273.2 593.1,273.4 596.6,273.7 C600.1,274.0 604.3,274.6 607.2,275.0 C610.1,275.4 611.8,275.6 614.0,276.1 C616.2,276.6 617.7,277.2 620.5,278.1 C623.3,279.1 627.5,280.3 631.0,281.8 C634.5,283.3 637.4,285.0 641.6,287.1 C645.8,289.2 653.8,293.2 656.3,294.4" class="cd"/>
<line x1="134.3" y1="20.0" x2="153.7" y2="20.0" class="as"/><path d="M121.6,20.0 L135.3,15.7 L135.3,24.3 Z" class="ah"/>
<line x1="174.8" y1="35.9" x2="203.0" y2="35.9" class="as"/><path d="M162.6,35.9 L175.8,31.6 L175.8,40.2 Z" class="ah"/>
<line x1="146.4" y1="102.6" x2="166.0" y2="102.6" class="as"/><path d="M134.2,102.6 L147.4,98.3 L147.4,106.9 Z" class="ah"/>
<line x1="166.9" y1="118.7" x2="206.0" y2="118.7" class="as"/><path d="M155.3,118.7 L167.9,114.4 L167.9,123.0 Z" class="ah"/>
<line x1="142.2" y1="200.9" x2="162.0" y2="200.9" class="as"/><path d="M130.0,200.9 L143.2,196.6 L143.2,205.2 Z" class="ah"/>
<line x1="183.0" y1="217.6" x2="211.0" y2="217.6" class="as"/><path d="M171.0,217.6 L184.0,213.3 L184.0,221.9 Z" class="ah"/>
<line x1="146.4" y1="281.8" x2="166.0" y2="281.8" class="as"/><path d="M134.2,281.8 L147.4,277.5 L147.4,286.1 Z" class="ah"/>
<line x1="174.8" y1="298.1" x2="215.0" y2="298.1" class="as"/><path d="M162.6,298.1 L175.8,293.8 L175.8,302.4 Z" class="ah"/>
<line x1="446.9" y1="39.9" x2="466.5" y2="39.9" class="as"/><path d="M435.1,39.9 L447.9,35.6 L447.9,44.2 Z" class="ah"/>
<line x1="450.9" y1="136.9" x2="479.0" y2="136.9" class="as"/><path d="M439.4,136.9 L451.9,132.6 L451.9,141.2 Z" class="ah"/>
<line x1="524.0" y1="303.2" x2="544.0" y2="303.2" class="as"/><path d="M512.5,303.2 L525.0,298.9 L525.0,307.5 Z" class="ah"/>
<text transform="translate(169.8,24.8) scale(0.93,1)" class="h">H1</text>
<text transform="translate(210.3,41.0) scale(1.02,1)" class="h">H2</text>
<text transform="translate(181.7,107.8) scale(0.93,1)" class="h">H1</text>
<text transform="translate(222.6,123.6) scale(1.02,1)" class="h">H2</text>
<text transform="translate(177.7,206.3) scale(0.93,1)" class="h">H1</text>
<text transform="translate(218.1,222.1) scale(1.02,1)" class="h">H2</text>
<text transform="translate(181.7,286.6) scale(0.93,1)" class="h">H1</text>
<text transform="translate(222.6,302.6) scale(1.02,1)" class="h">H2</text>
<text transform="translate(430.1,20.7) scale(1.02,1)" class="h">H2</text>
<text transform="translate(482.7,44.9) scale(0.93,1)" class="h">H1</text>
<text transform="translate(421.9,112.4) scale(1.02,1)" class="h">H2</text>
<text transform="translate(482.9,137.4) scale(0.93,1)" class="h">H1</text>
<text transform="translate(543.8,193.2) scale(1.02,1)" class="h">H2</text>
<text transform="translate(515.7,213.2) scale(0.93,1)" class="h">H1</text>
<text transform="translate(483.1,293.2) scale(1.02,1)" class="h">H2</text>
<text transform="translate(560.1,307.9) scale(0.93,1)" class="h">H1</text>
<text transform="translate(332.3,48.1) scale(1.06,1)" class="p"><tspan dy="-2.4">(</tspan><tspan dy="2.4">a</tspan><tspan dy="-2.4">)</tspan></text>
<text transform="translate(332.3,130.4) scale(1.06,1)" class="p"><tspan dy="-2.4">(</tspan><tspan dy="2.4">b</tspan><tspan dy="-2.4">)</tspan></text>
<text transform="translate(332.3,212.4) scale(1.06,1)" class="p"><tspan dy="-2.4">(</tspan><tspan dy="2.4">c</tspan><tspan dy="-2.4">)</tspan></text>
<text transform="translate(332.3,293.1) scale(1.06,1)" class="p"><tspan dy="-2.4">(</tspan><tspan dy="2.4">d</tspan><tspan dy="-2.4">)</tspan></text>
<text transform="translate(13.8,168.6) rotate(-90)" text-anchor="middle" class="a">Relative power</text>
<text transform="translate(369.8,168.6) rotate(-90)" text-anchor="middle" class="a">Cosine similarity</text>
<text x="157.6" y="355.0" text-anchor="middle" class="a">Frequency(Hz)</text>
<text x="531.6" y="354.6" text-anchor="middle" class="a">Phase step</text>
</svg>
</body></html>
